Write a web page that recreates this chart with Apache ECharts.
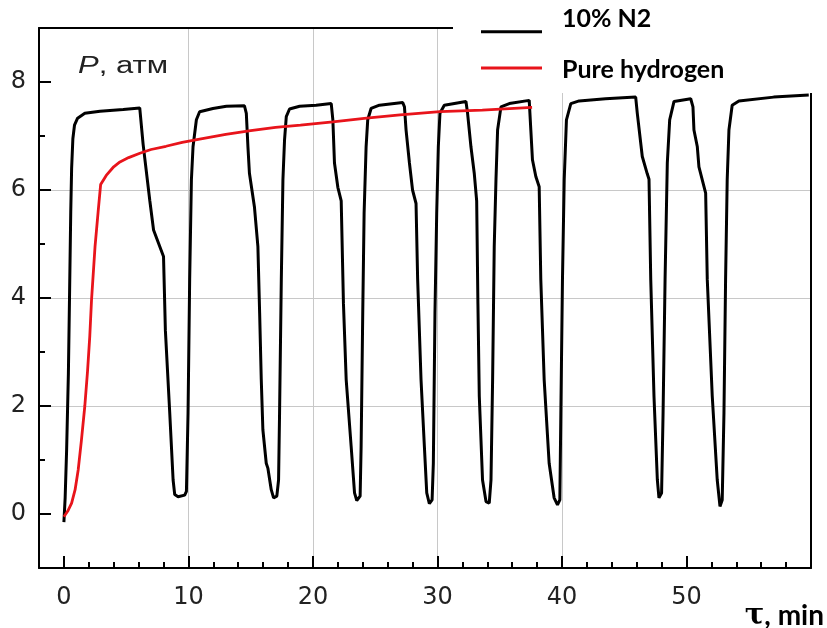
<!DOCTYPE html>
<html><head><meta charset="utf-8">
<script src="https://cdn.jsdelivr.net/npm/echarts@6/dist/echarts.min.js"></script>
<style>html,body{margin:0;padding:0;background:#fff}#c{width:827px;height:628px}</style>
</head><body><div id="c"></div>
<script>
const seriesNames = ['10% N2', 'Pure hydrogen'];
const xTickValues = [0, 10, 20, 30, 40, 50];
const yTickValues = [0, 2, 4, 6, 8];

const n2Time = [
  0, 0.1, 0.22, 0.36, 0.45, 0.55, 0.62, 0.72, 0.85, 1.1, 1.68, 2.9, 4.76, 6.09,
  6.36, 6.9, 7.2, 8.0, 8.15, 8.5, 8.77, 8.9, 9.17, 9.7, 9.84,
  9.97, 10.1, 10.24, 10.37, 10.64, 10.9, 11.97, 13.05, 14.5,
  14.65, 14.78, 14.9, 15.3, 15.58, 15.72, 15.85, 15.98, 16.25, 16.38, 16.65, 16.84, 17.1, 17.24,
  17.32, 17.46, 17.59, 17.72, 17.86, 18.12, 18.93, 20.26, 21.47,
  21.6, 21.73, 22.0, 22.27, 22.45, 22.67, 23.07, 23.34, 23.52, 23.79,
  23.87, 24.0, 24.11, 24.27, 24.4, 24.67, 25.34, 27.21,
  27.35, 27.48, 27.75, 28.0, 28.28, 28.41, 28.68, 28.95, 29.14, 29.35, 29.57,
  29.67, 29.8, 29.94, 30.07, 30.2, 30.55, 32.29,
  32.42, 32.69, 32.96, 33.15, 33.25, 33.36, 33.62, 33.9, 34.16,
  34.3, 34.43, 34.56, 34.7, 34.83, 35.1, 35.77, 37.37,
  37.5, 37.63, 37.9, 38.17, 38.3, 38.57, 38.97, 39.37, 39.64, 39.83,
  39.91, 40.04, 40.18, 40.36, 40.71, 41.38, 43.5, 45.92,
  46.05, 46.45, 46.85, 46.99, 47.13, 47.39, 47.66, 47.79, 48.0,
  48.12, 48.28, 48.46, 48.65, 49.0, 50.34,
  50.52, 50.6, 50.87, 51.0, 51.54, 51.67, 52.07, 52.47, 52.69, 52.87,
  53.01, 53.14, 53.27, 53.41, 53.67, 54.21, 57.0, 59.82
];
const n2Pressure = [
  -0.15, 0.3, 1.2, 2.6, 4.0, 5.6, 6.4, 6.95, 7.2, 7.33, 7.42, 7.46, 7.49, 7.52,
  6.85, 5.8, 5.26, 4.77, 3.4, 1.87, 0.63, 0.36, 0.32, 0.35, 0.42,
  1.87, 4.34, 6.19, 6.8, 7.3, 7.45, 7.51, 7.55, 7.56,
  7.42, 6.8, 6.31, 5.69, 4.95, 3.72, 2.49, 1.56, 0.94, 0.85, 0.45, 0.3, 0.33, 0.63,
  1.87, 4.34, 6.19, 6.93, 7.36, 7.5, 7.55, 7.57, 7.6,
  7.3, 6.5, 6.05, 5.8, 3.9, 2.49, 1.25, 0.39, 0.25, 0.33,
  1.25, 3.72, 5.57, 6.8, 7.3, 7.51, 7.57, 7.62,
  7.54, 7.11, 6.5, 6.0, 5.75, 4.34, 2.49, 1.25, 0.39, 0.19, 0.26,
  0.94, 3.72, 5.57, 6.8, 7.42, 7.57, 7.64,
  7.42, 6.8, 6.3, 5.8, 3.9, 2.18, 0.63, 0.23, 0.2,
  0.63, 2.49, 4.95, 6.19, 7.11, 7.54, 7.6, 7.66,
  7.11, 6.56, 6.25, 6.06, 4.34, 2.49, 0.94, 0.3, 0.17, 0.26,
  1.87, 4.34, 6.19, 7.3, 7.6, 7.65, 7.69, 7.72,
  7.42, 6.62, 6.3, 6.2, 4.34, 2.18, 0.63, 0.3, 0.39,
  1.87, 4.34, 6.5, 7.3, 7.64, 7.69,
  7.54, 7.11, 6.8, 6.43, 5.94, 4.34, 2.18, 0.63, 0.14, 0.26,
  1.87, 4.34, 6.19, 7.11, 7.57, 7.65, 7.72, 7.76
];

const h2Time = [0, 0.3, 0.62, 0.9, 1.15, 1.4, 1.68, 1.9, 2.08, 2.22, 2.5, 2.75, 2.95, 3.4, 4.0, 4.5, 5.2, 6.1, 7.0, 8.2, 9.5, 10.9, 13, 15, 17, 19, 21.6, 24.3, 27, 30.2, 33.6, 37.6];
const h2Pressure = [-0.05, 0.05, 0.2, 0.45, 0.82, 1.35, 2.0, 2.65, 3.3, 3.97, 4.95, 5.6, 6.1, 6.27, 6.43, 6.52, 6.6, 6.68, 6.75, 6.81, 6.88, 6.94, 7.03, 7.1, 7.16, 7.2, 7.26, 7.33, 7.39, 7.45, 7.48, 7.53];

const zip = (a, b) => a.map((v, i) => [v, b[i]]);

const chart = echarts.init(document.getElementById('c'), null, {renderer: 'canvas'});
const black = '#000';
const red = '#e8141b';
const gridColor = '#c8c8c8';
const labelFont = {fontFamily: 'DejaVu Sans', fontSize: 24, color: '#222'};
const legendFont = {fontFamily: 'Lato', fontWeight: 'bold', fontSize: 25, color: '#000'};
const frameLine = {show: true, onZero: false, lineStyle: {color: black, width: 2}};
const hidden = {show: false};

const option = {
  animation: false,
  backgroundColor: '#fff',
  grid: {left: 39, top: 28, width: 772, height: 540},
  xAxis: [
    {type: 'value', min: -2, max: 60, interval: 2, position: 'bottom',
     axisLine: frameLine,
     axisTick: {show: true, inside: true, length: 6, lineStyle: {color: black, width: 2}},
     axisLabel: hidden, splitLine: hidden},
    {type: 'value', min: -2, max: 60, position: 'bottom', minInterval: 10, maxInterval: 10,
     axisLine: {show: false, onZero: false},
     axisTick: {show: true, inside: true, length: 12, customValues: xTickValues, lineStyle: {color: black, width: 2}},
     axisLabel: Object.assign({show: true, customValues: xTickValues, margin: 18}, labelFont),
     splitLine: {show: true, showMinLine: false, showMaxLine: false, lineStyle: {color: gridColor, width: 1}}},
    {type: 'value', min: -2, max: 60, position: 'top',
     axisLine: frameLine, axisTick: hidden, axisLabel: hidden, splitLine: hidden}
  ],
  yAxis: [
    {type: 'value', min: -1, max: 9, interval: 1, position: 'left',
     axisLine: frameLine,
     axisTick: {show: true, inside: true, length: 6, lineStyle: {color: black, width: 2}},
     axisLabel: hidden, splitLine: hidden},
    {type: 'value', min: -1, max: 9, position: 'left', minInterval: 2, maxInterval: 2,
     axisLine: {show: false, onZero: false},
     axisTick: {show: true, inside: true, length: 12, customValues: yTickValues, lineStyle: {color: black, width: 2}},
     axisLabel: Object.assign({show: true, customValues: yTickValues, margin: 13}, labelFont),
     splitLine: {show: true, showMinLine: false, showMaxLine: false, lineStyle: {color: gridColor, width: 1}}},
    {type: 'value', min: -1, max: 9, position: 'right',
     axisLine: frameLine, axisTick: hidden, axisLabel: hidden, splitLine: hidden}
  ],
  legend: [
    {data: [seriesNames[0]], left: 481, top: 6.7, orient: 'vertical', padding: 0, icon: 'rect',
     itemWidth: 61, itemHeight: 3, z: 60, selectedMode: false,
     formatter: '{a|{name}}',
     textStyle: Object.assign({rich: {a: Object.assign({lineHeight: 50, verticalAlign: 'top', padding: [0, 0, 0, 15]}, legendFont)}}, legendFont)},
    {data: [seriesNames[1]], left: 481, top: 57, orient: 'vertical', padding: 0, icon: 'rect',
     itemWidth: 61, itemHeight: 3, z: 60, selectedMode: false,
     formatter: '{a|{name}}',
     textStyle: Object.assign({rich: {a: Object.assign({lineHeight: 28, verticalAlign: 'bottom', padding: [0, 0, 0, 15]}, legendFont)}}, legendFont)}
  ],
  graphic: [
    {type: 'rect', shape: {x: 453, y: 0, width: 374, height: 93}, style: {fill: '#fff'}, z: 50, silent: true},
    {type: 'rect', shape: {x: 53, y: 30, width: 135, height: 62}, style: {fill: '#fff'}, z: 50, silent: true},
    {type: 'text', x: 78, y: 67, scaleX: 1.35, z: 51, silent: true,
     style: {text: '{i|P}{n|, атм}', verticalAlign: 'middle', align: 'left',
       rich: {i: {fontFamily: 'Liberation Sans', fontStyle: 'italic', fontSize: 23, fill: '#222'},
              n: {fontFamily: 'Liberation Sans', fontSize: 23, fill: '#222'}}}},
    {type: 'text', x: 824, y: 616, z: 51, silent: true,
     style: {text: '{t|τ}{m|, min}', verticalAlign: 'middle', align: 'right',
       rich: {t: {fontFamily: 'DejaVu Serif', fontWeight: 'bold', fontSize: 29, fill: '#000'},
              m: {fontFamily: 'Lato', fontWeight: 'bold', fontSize: 28, fill: '#000'}}}}
  ],
  series: [
    {name: seriesNames[0], type: 'line', xAxisIndex: 0, yAxisIndex: 0, data: zip(n2Time, n2Pressure),
     symbol: 'none', showSymbol: false, lineStyle: {color: black, width: 3}, itemStyle: {color: black}, z: 3},
    {name: seriesNames[1], type: 'line', xAxisIndex: 0, yAxisIndex: 0, data: zip(h2Time, h2Pressure),
     symbol: 'none', showSymbol: false, lineStyle: {color: red, width: 2.8}, itemStyle: {color: red}, z: 4}
  ]
};
chart.setOption(option);
</script>
</body></html>
